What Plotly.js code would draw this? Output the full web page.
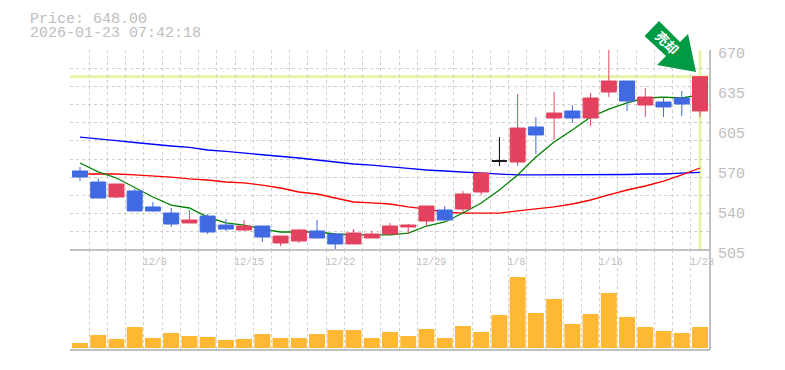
<!DOCTYPE html>
<html><head><meta charset="utf-8">
<script src="https://cdn.plot.ly/plotly-3.0.1.min.js"></script>
<style>html,body{margin:0;padding:0;background:#fff;overflow:hidden}#c{width:785px;height:370px}</style>
</head><body><div id="c"></div>
<script>
const dates=['12/2','12/3','12/4','12/5','12/8','12/9','12/10','12/11','12/12','12/15','12/16','12/17','12/18','12/19','12/22','12/23','12/24','12/25','12/26','12/29','12/30','1/5','1/6','1/7','1/8','1/9','1/13','1/14','1/15','1/16','1/19','1/20','1/21','1/22','1/23'];
const open_=[570.2,561.1,548.7,553.7,540.5,535.5,527.3,533,525.6,521.5,524.8,510.8,512.4,520.7,518.2,510,514.9,518.2,524,528.9,538,538.8,552.85,578.4,577.6,606.5,613.9,619.7,613.9,635.35,644.4,624.6,627.1,630.4,619.7];
const high_=[573.5,564.4,559.45,555.3,544.6,539.65,538,534.7,530.6,529.75,524.8,516.55,522.3,529.75,519,522.3,520.7,527.3,526.45,541.3,541.3,553.7,568.5,598.2,633.7,614.7,635.35,624.6,634.5,670,644.4,638.65,631.2,636.2,648];
const low_=[561.9,547.9,547.9,537.2,536.35,524,527.3,518.2,520.7,520.7,511.6,508.3,510.8,514.9,505.8,510,514.9,517.4,518.2,524.8,529.75,536.35,550.4,574.3,574.3,584.2,595.75,609.8,607.3,631.2,619.7,614.7,614.7,615.55,614.7];
const close_=[565.2,547.9,559.45,537.2,537.2,526.45,529.75,519.85,522.3,524.8,515.7,516.55,521.5,514.9,510,519,518.2,524.8,525.6,541.3,529.75,551.2,568.5,578.4,605.65,599.9,618,613.9,630.4,644.4,627.9,631.2,623,625.45,648];
const ma5=[576.8,569.4,564.4,556.2,548.7,542.1,539.65,532.2,527.3,525.6,522.3,519.85,519.85,519.85,518.2,517.4,517.4,517.4,519,524.8,528.1,535.5,543.8,554.5,566.9,581.7,594.1,604,614.7,621.3,626.3,630.4,631.2,630.4,632.9];
const ma25=[567.7,567.7,567.7,566.9,566.05,565.2,563.6,562.75,561.1,560.3,558.6,556.15,552.85,551.2,547.9,544.6,543.8,542.95,540.5,538.8,536.35,535.5,535.5,535.5,537.2,538.8,540.5,542.95,546.25,550.4,554.5,557.8,561.9,566.9,572.65];
const ma75=[598.2,597,595.3,593.7,592,590.8,589.6,587.5,586.3,585,583.4,582.55,580.9,579.25,577.6,575.95,575.1,573.5,572.3,571,570.2,569,568.1,567.7,566.9,566.9,566.9,566.9,566.9,567.3,567.3,567.7,567.7,568.5,569];
const volume=[5,13,9,21,10,15,12,11,8,9,14,10,10,14,18,18,10,16,12,19,10,22,16,33,71,35,49,24,34,55,31,21,17,15,21];
const priceTicks=[670,637,604,571,538,505];
const priceLabels=['670','635','605','570','540','505'];
const labelEvery=[4,9,14,19,24,29,34];
const lastPrice=648;

const idx=dates.map((_,i)=>i);
const doji=idx.filter(i=>open_[i]===close_[i]);
const body=idx.filter(i=>open_[i]!==close_[i]);
const pick=(a,s)=>s.map(i=>a[i]);
const mono='"Liberation Mono", monospace';
const GRID='#cfcfcf', AX='#c0c0c0', TXT='#bdbdbd', RED='#e3425f', BLUE='#4169e1', LIME='#e4f5a8';
const px=(x,y)=>[(x-70)/640,(350-y)/300];
const poly=[[659,21],[680,42],[688,34],[696,72],[657,65],[666,56],[644.5,36]];
const arrowPath=poly.map((p,i)=>{const q=px(p[0],p[1]);return (i?'L':'M')+q[0]+','+q[1];}).join(' ')+' Z';
const XR=[-0.548,34.548];

const traces=[
 {type:'scatter',mode:'lines',x:idx,y:ma75,xaxis:'x',yaxis:'y',line:{color:'#0000ff',width:1.3},name:'MA75',hoverinfo:'skip'},
 {type:'scatter',mode:'lines',x:idx,y:ma25,xaxis:'x',yaxis:'y',line:{color:'#ff0000',width:1.3},name:'MA25',hoverinfo:'skip'},
 {type:'scatter',mode:'lines',x:idx,y:ma5,xaxis:'x',yaxis:'y',line:{color:'#008000',width:1.3},name:'MA5',hoverinfo:'skip'},
 {type:'candlestick',x:body,open:pick(open_,body),high:pick(high_,body),low:pick(low_,body),close:pick(close_,body),xaxis:'x3',yaxis:'y3',whiskerwidth:0,
  increasing:{line:{color:RED,width:1},fillcolor:RED},decreasing:{line:{color:BLUE,width:1},fillcolor:BLUE},name:'Price'},
 {type:'candlestick',x:doji,open:pick(open_,doji),high:pick(high_,doji),low:pick(low_,doji),close:pick(close_,doji),xaxis:'x3',yaxis:'y3',whiskerwidth:0,
  increasing:{line:{color:'#000',width:1},fillcolor:'#000'},decreasing:{line:{color:'#000',width:1},fillcolor:'#000'},name:'Doji'},
 {type:'bar',x:idx,y:volume,xaxis:'x2',yaxis:'y2',marker:{color:'#ffb833',line:{width:0}},width:0.875,name:'Volume'}
];
const gridX={tickmode:'linear',tick0:-0.5,dtick:1,showticklabels:false,ticks:'',showgrid:true,gridcolor:GRID,griddash:'3px,3px',gridwidth:1,zeroline:false,showline:false,fixedrange:true};
const layout={
 width:785,height:370,margin:{l:70,r:75,t:50,b:20},paper_bgcolor:'#fff',plot_bgcolor:'#fff',showlegend:false,
 boxgap:0.177,boxgroupgap:0,boxmode:'overlay',
 title:{text:'Price: 648.00',font:{family:mono,size:15,color:TXT},x:30/785,xanchor:'left',y:1-18/370,yanchor:'middle',xref:'container',yref:'container',pad:{l:0,r:0,t:0,b:0}},
 xaxis:Object.assign({range:XR,domain:[0,1],anchor:'y'},gridX),
 xaxis2:Object.assign({range:XR,domain:[0,1],anchor:'y2'},gridX),
 xaxis3:{range:XR,overlaying:'x',anchor:'y3',side:'bottom',tickmode:'array',
  tickvals:labelEvery.map(i=>i-0.5+(dates[i].length*3-1)/18.235),ticktext:labelEvery.map(i=>dates[i]),
  tickfont:{family:mono,size:10,color:TXT},ticks:'',ticklabelstandoff:4,showgrid:false,zeroline:false,showline:false,rangeslider:{visible:false},fixedrange:true},
 yaxis:{range:[505,670],domain:[1/3,1],anchor:'x',side:'right',tickmode:'linear',tick0:505,dtick:15,showticklabels:false,ticks:'',showgrid:true,gridcolor:GRID,griddash:'3px,3px',gridwidth:1,zeroline:false,showline:false,fixedrange:true},
 yaxis3:{range:[505,670],overlaying:'y',anchor:'x3',side:'right',tickmode:'array',tickvals:priceTicks,ticktext:priceLabels,ticklabelshift:3,ticklabelstandoff:7,
  tickfont:{family:mono,size:15,color:TXT},ticks:'',showgrid:false,zeroline:false,showline:false,fixedrange:true},
 yaxis2:{range:[-2,98],domain:[0,1/3],anchor:'x2',showticklabels:false,ticks:'',showgrid:false,zeroline:false,showline:false,fixedrange:true},
 shapes:[
  {type:'line',xref:'paper',yref:'y',x0:0,x1:1,y0:lastPrice,y1:lastPrice,line:{color:LIME,width:3},layer:'below'},
  {type:'line',xref:'x',yref:'y',x0:34,x1:34,y0:505,y1:670,line:{color:LIME,width:3},layer:'below'},
  {type:'line',xref:'paper',yref:'paper',x0:1,x1:1,y0:0,y1:1,line:{color:AX,width:2},layer:'above'},
  {type:'line',xref:'paper',yref:'paper',x0:0,x1:1,y0:1/3,y1:1/3,line:{color:AX,width:2},layer:'above'},
  {type:'line',xref:'paper',yref:'paper',x0:0,x1:1,y0:0,y1:0,line:{color:AX,width:2},layer:'above'},
  {type:'path',xref:'paper',yref:'paper',path:arrowPath,fillcolor:'#009a44',line:{width:0},layer:'above'}
 ],
 annotations:[
  {xref:'paper',yref:'paper',x:px(28,0)[0],y:px(0,33)[1],xanchor:'left',yanchor:'middle',showarrow:false,text:'2026-01-23 07:42:18',font:{family:mono,size:15,color:TXT}},
  {xref:'paper',yref:'paper',x:px(667,0)[0],y:px(0,43)[1],xanchor:'center',yanchor:'middle',showarrow:false,textangle:45,text:'<b>売却</b>',font:{family:'"Noto Sans CJK JP"',size:13,color:'#fff'}}
 ]
};
Plotly.newPlot('c',traces,layout,{staticPlot:true,displayModeBar:false});
</script></body></html>
